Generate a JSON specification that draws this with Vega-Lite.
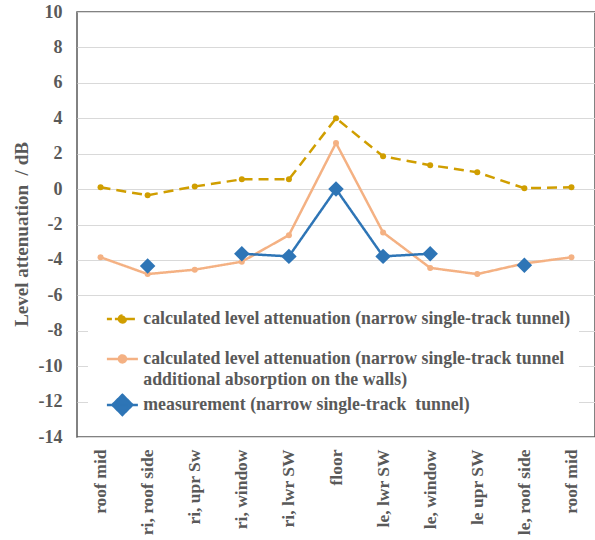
{
  "$schema": "https://vega.github.io/schema/vega-lite/v6.json",
  "width": 518,
  "height": 425,
  "autosize": {"type": "none"},
  "padding": {"left": 77, "top": 12, "right": 0, "bottom": 103},
  "background": "white",
  "config": {
    "font": "Liberation Serif",
    "view": {"stroke": "#595959", "strokeWidth": 1.5},
    "axis": {
      "labelFont": "Liberation Serif",
      "labelFontWeight": "bold",
      "labelColor": "#595959",
      "titleFont": "Liberation Serif",
      "titleFontWeight": "bold",
      "titleColor": "#595959",
      "ticks": false,
      "domain": false
    }
  },
  "data": {
    "values": [
      {"series": "calculated level attenuation (narrow single-track tunnel)", "segment": "a", "location": "roof mid", "level": 0.1},
      {"series": "calculated level attenuation (narrow single-track tunnel)", "segment": "a", "location": "ri, roof side", "level": -0.35},
      {"series": "calculated level attenuation (narrow single-track tunnel)", "segment": "a", "location": "ri, upr Sw", "level": 0.15},
      {"series": "calculated level attenuation (narrow single-track tunnel)", "segment": "a", "location": "ri, window", "level": 0.55},
      {"series": "calculated level attenuation (narrow single-track tunnel)", "segment": "a", "location": "ri, lwr SW", "level": 0.55},
      {"series": "calculated level attenuation (narrow single-track tunnel)", "segment": "a", "location": "floor", "level": 4.0},
      {"series": "calculated level attenuation (narrow single-track tunnel)", "segment": "a", "location": "le, lwr SW", "level": 1.85},
      {"series": "calculated level attenuation (narrow single-track tunnel)", "segment": "a", "location": "le, window", "level": 1.35},
      {"series": "calculated level attenuation (narrow single-track tunnel)", "segment": "a", "location": "le upr SW", "level": 0.95},
      {"series": "calculated level attenuation (narrow single-track tunnel)", "segment": "a", "location": "le, roof side", "level": 0.05},
      {"series": "calculated level attenuation (narrow single-track tunnel)", "segment": "a", "location": "roof mid ", "level": 0.1},

      {"series": "calculated level attenuation (narrow single-track tunnel additional absorption on the walls)", "segment": "b", "location": "roof mid", "level": -3.85},
      {"series": "calculated level attenuation (narrow single-track tunnel additional absorption on the walls)", "segment": "b", "location": "ri, roof side", "level": -4.8},
      {"series": "calculated level attenuation (narrow single-track tunnel additional absorption on the walls)", "segment": "b", "location": "ri, upr Sw", "level": -4.55},
      {"series": "calculated level attenuation (narrow single-track tunnel additional absorption on the walls)", "segment": "b", "location": "ri, window", "level": -4.1},
      {"series": "calculated level attenuation (narrow single-track tunnel additional absorption on the walls)", "segment": "b", "location": "ri, lwr SW", "level": -2.6},
      {"series": "calculated level attenuation (narrow single-track tunnel additional absorption on the walls)", "segment": "b", "location": "floor", "level": 2.6},
      {"series": "calculated level attenuation (narrow single-track tunnel additional absorption on the walls)", "segment": "b", "location": "le, lwr SW", "level": -2.45},
      {"series": "calculated level attenuation (narrow single-track tunnel additional absorption on the walls)", "segment": "b", "location": "le, window", "level": -4.45},
      {"series": "calculated level attenuation (narrow single-track tunnel additional absorption on the walls)", "segment": "b", "location": "le upr SW", "level": -4.8},
      {"series": "calculated level attenuation (narrow single-track tunnel additional absorption on the walls)", "segment": "b", "location": "le, roof side", "level": -4.2},
      {"series": "calculated level attenuation (narrow single-track tunnel additional absorption on the walls)", "segment": "b", "location": "roof mid ", "level": -3.85},

      {"series": "measurement (narrow single-track\u00a0 tunnel)", "segment": "c1", "location": "ri, roof side", "level": -4.35},
      {"series": "measurement (narrow single-track\u00a0 tunnel)", "segment": "c2", "location": "ri, window", "level": -3.65},
      {"series": "measurement (narrow single-track\u00a0 tunnel)", "segment": "c2", "location": "ri, lwr SW", "level": -3.8},
      {"series": "measurement (narrow single-track\u00a0 tunnel)", "segment": "c2", "location": "floor", "level": 0.0},
      {"series": "measurement (narrow single-track\u00a0 tunnel)", "segment": "c2", "location": "le, lwr SW", "level": -3.8},
      {"series": "measurement (narrow single-track\u00a0 tunnel)", "segment": "c2", "location": "le, window", "level": -3.65},
      {"series": "measurement (narrow single-track\u00a0 tunnel)", "segment": "c3", "location": "le, roof side", "level": -4.3}
    ]
  },
  "encoding": {
    "x": {
      "field": "location",
      "type": "ordinal",
      "sort": ["roof mid", "ri, roof side", "ri, upr Sw", "ri, window", "ri, lwr SW", "floor", "le, lwr SW", "le, window", "le upr SW", "le, roof side", "roof mid "],
      "scale": {"type": "point", "padding": 0.5},
      "axis": {
        "title": null,
        "labelAngle": -90,
        "labelFontSize": 17.5,
        "labelPadding": 12,
        "labelExpr": "trim(datum.label)",
        "grid": false
      }
    },
    "y": {
      "field": "level",
      "type": "quantitative",
      "scale": {"domain": [-14, 10], "nice": false, "zero": false},
      "axis": {
        "title": "Level attenuation\u00a0 / dB",
        "values": [-14, -12, -10, -8, -6, -4, -2, 0, 2, 4, 6, 8, 10],
        "labelExpr": "datum.value + ''",
        "labelFontSize": 18,
        "labelPadding": 15,
        "titleFontSize": 19,
        "titleX": -56,
        "titleY": 222,
        "titleBaseline": "middle",
        "grid": true,
        "gridColor": "#D9D9D9",
        "gridWidth": 1
      }
    },
    "color": {
      "field": "series",
      "type": "nominal",
      "scale": {
        "domain": [
          "calculated level attenuation (narrow single-track tunnel)",
          "calculated level attenuation (narrow single-track tunnel additional absorption on the walls)",
          "measurement (narrow single-track\u00a0 tunnel)"
        ],
        "range": ["#D09E00", "#F4B183", "#2E75B6"]
      },
      "legend": {
        "title": null,
        "orient": "none",
        "legendX": 11,
        "legendY": 290,
        "fillColor": "white",
        "padding": 8,
        "symbolSize": 100,
        "symbolOffset": 17.5,
        "symbolStrokeWidth": 2.5,
        "labelFont": "Liberation Serif",
        "labelFontSize": 17.8,
        "labelFontWeight": "bold",
        "labelColor": "#595959",
        "labelLimit": 600,
        "labelOffset": 12,
        "rowPadding": 0,
        "labelExpr": "datum.label === 'calculated level attenuation (narrow single-track tunnel additional absorption on the walls)' ? ['calculated level attenuation (narrow single-track tunnel', 'additional absorption on the walls)'] : datum.label === 'calculated level attenuation (narrow single-track tunnel)' ? [datum.label, ''] : datum.label",
        "encode": {
          "labels": {
            "update": {
              "lineHeight": {"value": 21}
            }
          },
          "symbols": {
            "update": {
              "shape": {"signal": "datum.value === 'calculated level attenuation (narrow single-track tunnel)' ? 'M-3.1,0H-2.1M-1.5,0H-0.2M0.5,0H3.1M-0.7,0A0.7,0.7,0,1,0,0.7,0A0.7,0.7,0,1,0,-0.7,0Z' : datum.value === 'calculated level attenuation (narrow single-track tunnel additional absorption on the walls)' ? 'M-3.1,0H3.1M-0.7,0A0.7,0.7,0,1,0,0.7,0A0.7,0.7,0,1,0,-0.7,0Z' : 'M-3.1,0H3.1M-2,0L0,-2L2,0L0,2Z'"},
              "size": {"value": 100},
              "fill": {"signal": "scale('color', datum.value)"},
              "stroke": {"signal": "scale('color', datum.value)"},
              "strokeWidth": {"value": 2.5},
              "opacity": {"value": 1}
            }
          }
        }
      }
    }
  },
  "layer": [
    {
      "mark": {"type": "line", "strokeWidth": 2.5},
      "encoding": {
        "detail": {"field": "segment", "type": "nominal"},
        "strokeDash": {
          "field": "series",
          "type": "nominal",
          "scale": {
            "domain": [
              "calculated level attenuation (narrow single-track tunnel)",
              "calculated level attenuation (narrow single-track tunnel additional absorption on the walls)",
              "measurement (narrow single-track\u00a0 tunnel)"
            ],
            "range": [[10, 6], [1, 0], [1, 0]]
          },
          "legend": null
        }
      }
    },
    {
      "transform": [{"filter": {"not": {"field": "series", "equal": "measurement (narrow single-track\u00a0 tunnel)"}}}],
      "mark": {"type": "circle", "size": 36, "opacity": 1}
    },
    {
      "transform": [{"filter": {"field": "series", "equal": "measurement (narrow single-track\u00a0 tunnel)"}}],
      "mark": {"type": "point", "shape": "diamond", "filled": true, "size": 240, "opacity": 1}
    }
  ]
}
